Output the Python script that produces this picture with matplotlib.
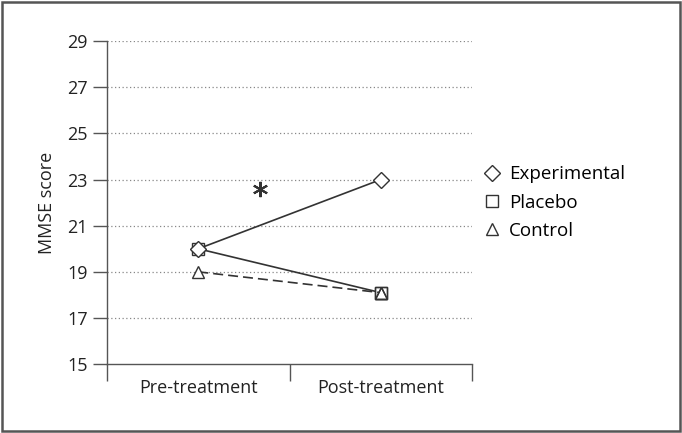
import matplotlib
matplotlib.use("Agg")
import matplotlib.pyplot as plt
from matplotlib.lines import Line2D
from matplotlib.patches import Rectangle

plt.rcParams['font.family'] = ['Open Sans', 'DejaVu Sans']

phases = ['Pre-treatment', 'Post-treatment']
experimental = [20.0, 23.0]
placebo = [20.0, 18.1]
control = [19.0, 18.1]
y_ticks = [15, 17, 19, 21, 23, 25, 27, 29]
star_pos = (0.84, 22.6)

fig = plt.figure(figsize=(6.82, 4.33), dpi=100)
ax = fig.add_axes([0.157, 0.159, 0.535, 0.746])

xpos = [0.5, 1.5]
col = '#333333'
ax.plot(xpos, placebo, color=col, lw=1.2, marker='s', ms=9, mfc='white', mec=col, zorder=3)
ax.plot(xpos, control, color=col, lw=1.2, ls=(0, (6, 3)), marker='^', ms=9, mfc='white', mec=col, zorder=3)
ax.plot(xpos, experimental, color=col, lw=1.2, marker='D', ms=8, mfc='white', mec=col, zorder=4)
# redraw post markers so overlapping symbols stay visible
ax.plot(xpos[1:], placebo[1:], ls='none', marker='s', ms=9, mfc='none', mec=col, zorder=5)
ax.plot(xpos[1:], control[1:], ls='none', marker='^', ms=8, mfc='none', mec=col, zorder=5)

# significance asterisk
ax.plot([star_pos[0]], [star_pos[1]], ls='none', marker=(6, 2, 0), ms=11, mew=1.5, color=col)

ax.set_xlim(0, 2)
ax.set_ylim(15, 29)
ax.set_yticks(y_ticks)
ax.set_xticks(xpos)
ax.set_xticklabels(phases)
ax.set_xticks([0, 1, 2], minor=True)
ax.tick_params(axis='x', which='major', length=0, pad=11, labelsize=13, colors='#222222')
ax.tick_params(axis='x', which='minor', length=12, width=1, color='#555555')
ax.tick_params(axis='y', length=10, width=1, color='#555555', labelsize=13, labelcolor='#222222', pad=4)
ax.set_ylabel('MMSE score', fontsize=13, color='#222222', labelpad=8)

for y in y_ticks[1:]:
    ax.axhline(y, color='#888888', lw=0.9, ls=(0, (1, 2)), zorder=1)

for s in ['top', 'right']:
    ax.spines[s].set_visible(False)
for s in ['left', 'bottom']:
    ax.spines[s].set_color('#555555')
    ax.spines[s].set_linewidth(1)

handles = [
    Line2D([], [], ls='none', marker='D', ms=8, mfc='white', mec=col),
    Line2D([], [], ls='none', marker='s', ms=9, mfc='white', mec=col),
    Line2D([], [], ls='none', marker='^', ms=9, mfc='white', mec=col),
]
fig.legend(handles, ['Experimental', 'Placebo', 'Control'], loc='center left',
           bbox_to_anchor=(0.686, 0.532), frameon=False, fontsize=13.5,
           handlelength=0.8, handletextpad=0.5, labelspacing=0.55)

fig.patches.append(Rectangle((0.003, 0.005), 0.994, 0.99, transform=fig.transFigure,
                             fill=False, edgecolor='#555555', lw=1.8))

fig.savefig('out.png', dpi=100)
